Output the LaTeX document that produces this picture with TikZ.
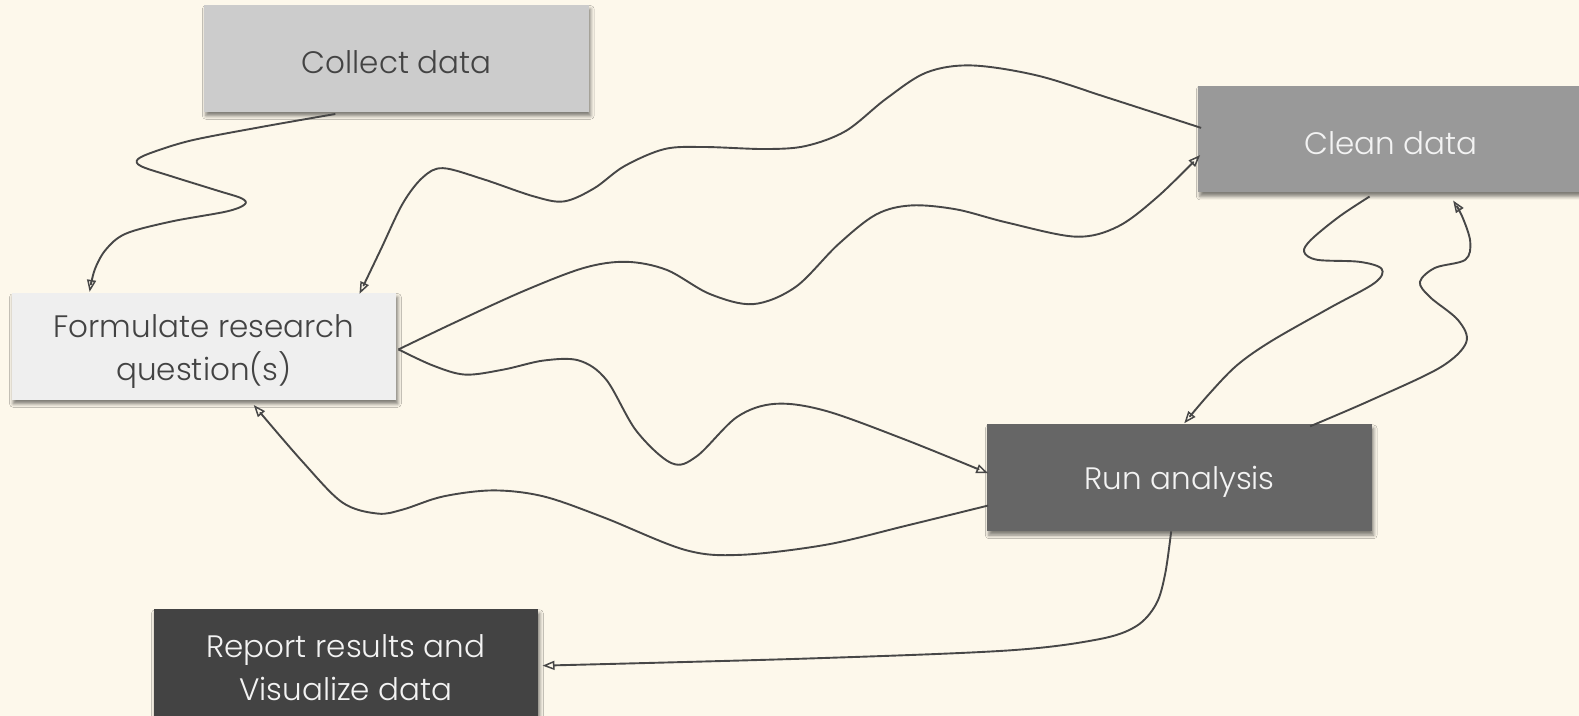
\documentclass[tikz,border=0pt]{standalone}
\usepackage{fontspec}
\setmainfont{Poppins}[UprightFont=* Light]
\usetikzlibrary{arrows.meta,shadows.blur,calc}
\definecolor{bg}{HTML}{FDF8EB}
\definecolor{cA}{HTML}{EFEFEF}
\definecolor{cB}{HTML}{CCCCCC}
\definecolor{cC}{HTML}{999999}
\definecolor{cD}{HTML}{666666}
\definecolor{cE}{HTML}{434343}
\definecolor{tdark}{HTML}{434343}
\definecolor{tlight}{HTML}{F3F3F3}
\definecolor{linec}{HTML}{474747}
\newcommand\myStrut{\rule{0pt}{31pt}}
\newcommand\myStrutB{\rule{0pt}{34pt}}
\begin{document}
\begin{tikzpicture}[x=1.007pt,y=-1.007pt,
  box/.style={rectangle, minimum width=384.7pt, minimum height=106.7pt, inner sep=0pt,
    align=center, font=\fontsize{31}{43}\selectfont,
    blur shadow={shadow xshift=1.5pt, shadow yshift=-4pt, shadow blur radius=3.5pt, shadow opacity=50}},
  edge/.style={draw=linec, line width=1.9pt, line join=round,
    -{Triangle[open,length=12pt,width=9pt,line width=1.5pt]}},
  wave/.style={smooth, tension=0.55}
]
\fill[bg] (0,0) rectangle (1568,711);
\useasboundingbox (0,0) rectangle (1568,711);

\node[box, fill=cB, text=tdark] (collect) at (394,58) {\myStrut Collect data};
\node[box, fill=cC, text=tlight] (clean) at (1381,138) {\myStrut Clean data};
\node[box, fill=cA, text=tdark] (form) at (202.5,344) {\myStrutB Formulate research\\question(s)};
\node[box, fill=cD, text=tlight] (run) at (1171.5,474.5) {\myStrut Run analysis};
\node[box, fill=cE, text=tlight] (report) at (343.5,658) {\myStrutB Report results and\\Visualize data};

% end points
\coordinate (e1s) at ($(collect.south)+(-61,2)$);
\coordinate (e1e) at ($(form.north)+(-113.5,-1)$);
\coordinate (e2s) at ($(clean.west)+(3,-11)$);
\coordinate (e2e) at ($(form.north)+(154.5,1)$);
\coordinate (e3s) at ($(form.east)+(2,3)$);
\coordinate (e3e) at ($(clean.west)+(2,16)$);
\coordinate (e4s) at ($(form.east)+(2,3)$);
\coordinate (e4e) at ($(run.west)+(1,-4.5)$);
\coordinate (e5s) at ($(run.west)+(1,27.5)$);
\coordinate (e5e) at ($(form.south)+(49.5,5)$);
\coordinate (e6s) at ($(clean.south)+(-21,4)$);
\coordinate (e6e) at ($(run.north)+(4.5,-1)$);
\coordinate (e7s) at ($(run.north)+(129.5,2)$);
\coordinate (e7e) at ($(clean.south)+(62,8)$);
\coordinate (e8s) at ($(run.south)+(-8.5,0)$);
\coordinate (e8e) at ($(report.east)+(4,3)$);

% Collect -> Formulate
\draw[edge] plot[wave] coordinates {(e1s) (260,126) (192,139) (155,150) (137,158) (140,165) (170,175) (215,189) (240,197) (243,203) (225,210) (170,220) (125,232) (105,248) (94,268) (e1e)};
% Clean -> Formulate
\draw[edge] plot[wave] coordinates {(e2s) (1100,97) (1030,75) (965,65) (920,72) (880,98) (840,130) (800,145) (760,148) (700,146) (660,148) (620,165) (590,187) (560,200) (530,195) (480,178) (440,167) (420,176) (400,202) (378,248) (e2e)};
% Formulate -> Clean
\draw[edge] plot[wave] coordinates {(e3s) (450,321) (520,289) (580,266) (622,260) (662,268) (705,292) (748,302) (790,285) (832,243) (870,213) (905,204) (950,208) (1000,221) (1068,235) (1110,225) (1150,195) (e3e)};
% Formulate -> Run
\draw[edge] plot[wave] coordinates {(e4s) (430,363) (462,372) (500,367) (540,358) (575,358) (602,377) (632,428) (667,460) (692,453) (732,414) (770,401) (820,408) (900,437) (e4e)};
% Run -> Formulate
\draw[edge] plot[wave] coordinates {(e5s) (900,522) (820,541) (735,551) (680,546) (600,514) (540,493) (490,487) (440,493) (400,506) (375,510) (340,499) (300,458) (e5e)};
% Clean -> Run
\draw[edge] plot[wave] coordinates {(e6s) (1330,215) (1302,238) (1295,250) (1308,258) (1350,260) (1372,267) (1365,281) (1320,306) (1262,339) (1228,363) (1200,392) (e6e)};
% Run -> Clean
\draw[edge] plot[wave] coordinates {(e7s) (1360,398) (1430,365) (1456,340) (1448,318) (1420,295) (1410,280) (1425,266) (1455,258) (1460,240) (1452,215) (e7e)};
% Run -> Report
\draw[edge] plot[wave] coordinates {(e8s) (1157,570) (1148,600) (1128,622) (1090,635) (1000,646) (800,654) (e8e)};
\end{tikzpicture}
\end{document}
